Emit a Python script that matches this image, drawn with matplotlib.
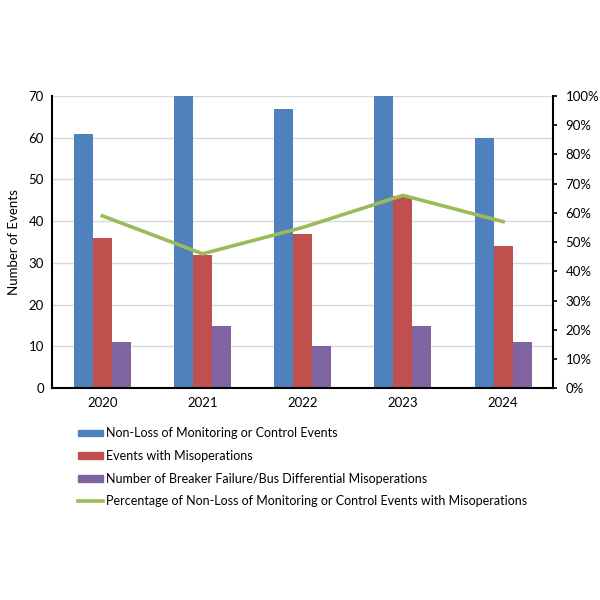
import matplotlib.pyplot as plt
import numpy as np
from matplotlib.patches import Patch
from matplotlib.lines import Line2D
from matplotlib.ticker import PercentFormatter

plt.rcParams['font.family'] = ['Lato', 'DejaVu Sans']

years = ['2020', '2021', '2022', '2023', '2024']
non_loss = [61, 70, 67, 70, 60]
with_misops = [36, 32, 37, 46, 34]
bf_bus_misops = [11, 15, 10, 15, 11]
pct_misops = [59, 46, 55, 66, 57]

labels = ['Non-Loss of Monitoring or Control Events',
          'Events with Misoperations',
          'Number of Breaker Failure/Bus Differential Misoperations',
          'Percentage of Non-Loss of Monitoring or Control Events with Misoperations']
colors = ['#4F81BD', '#C0504D', '#8064A2', '#9BBB59']

fig = plt.figure(figsize=(6, 6), dpi=100)
ax = fig.add_axes([0.087, 0.353, 0.835, 0.487])

x = np.arange(len(years))
w = 0.19
ax.bar(x - w, non_loss, w, color=colors[0], zorder=2)
ax.bar(x, with_misops, w, color=colors[1], zorder=2)
ax.bar(x + w, bf_bus_misops, w, color=colors[2], zorder=2)

ax.set_xlim(-0.5, 4.5)
ax.set_ylim(0, 70)
ax.set_yticks(range(0, 71, 10))
ax.set_xticks(x)
ax.set_xticklabels(years)
ax.yaxis.grid(True, color='#d9d9d9', linewidth=1, zorder=0)
ax.set_axisbelow(True)
ax.tick_params(axis='both', length=0, labelsize=9.5, pad=6)
ax.set_ylabel('Number of Events', fontsize=9.5, labelpad=6)
for s in ['top', 'right']:
    ax.spines[s].set_visible(False)
for s in ['left', 'bottom']:
    ax.spines[s].set_linewidth(1.5)

ax2 = ax.twinx()
ax2.plot(x, pct_misops, color=colors[3], linewidth=2.6, zorder=3)
ax2.set_ylim(0, 100)
ax2.set_yticks(range(0, 101, 10))
ax2.yaxis.set_major_formatter(PercentFormatter(decimals=0))
ax2.tick_params(axis='y', direction='out', length=3, width=1.2, labelsize=9.5, pad=6)
for s in ['top', 'left', 'bottom']:
    ax2.spines[s].set_visible(False)
ax2.spines['right'].set_linewidth(1.5)

handles = [Patch(color=colors[0]), Patch(color=colors[1]), Patch(color=colors[2]),
           Line2D([0], [0], color=colors[3], linewidth=2.6)]
fig.legend(handles, labels, loc='upper left', bbox_to_anchor=(0.12, 0.298),
           frameon=False, fontsize=9, handlelength=2.0, handleheight=0.45,
           handletextpad=0.2, labelspacing=0.85, borderpad=0)

fig.savefig('out.png', dpi=100)
